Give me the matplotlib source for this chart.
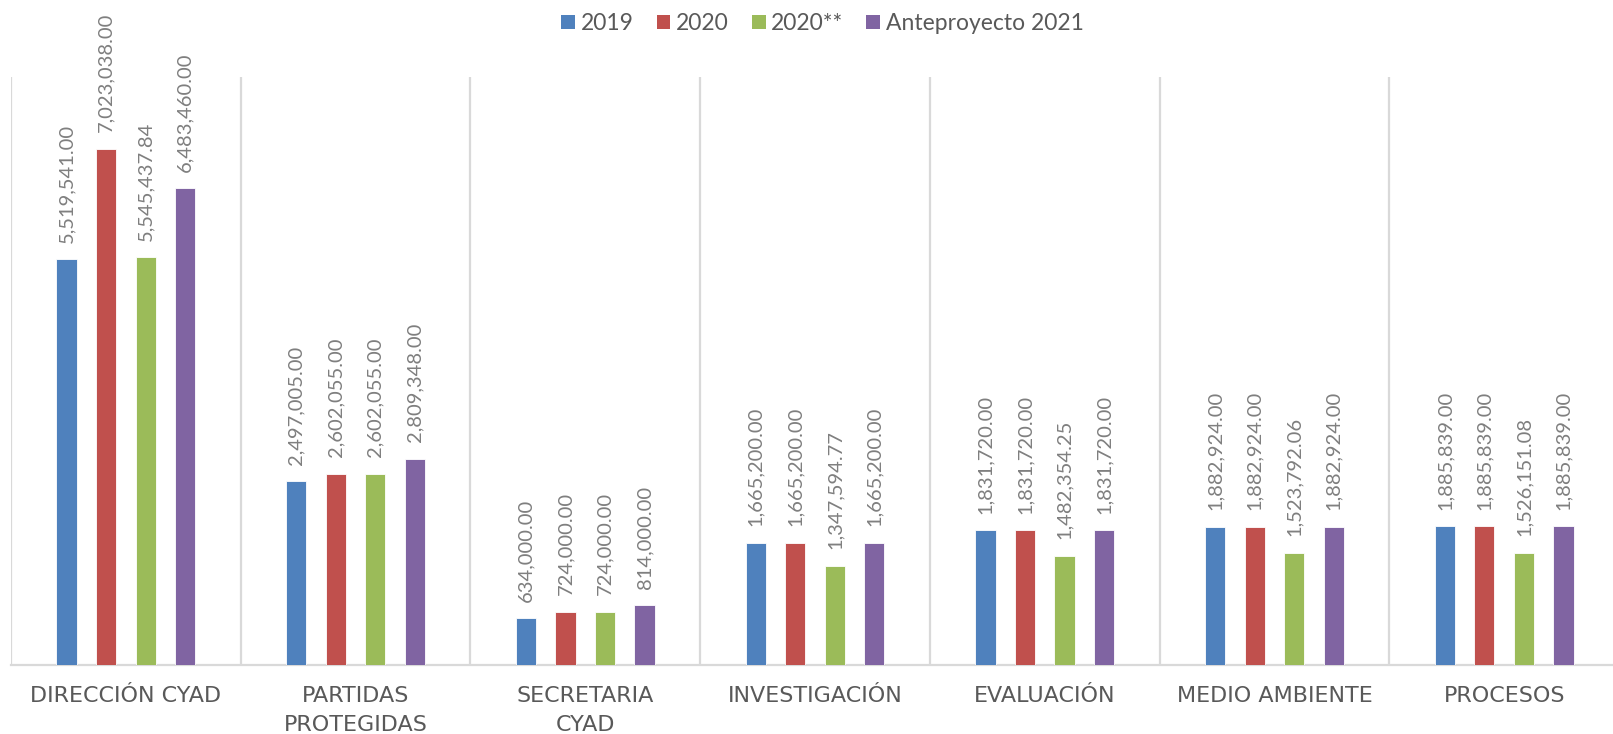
import matplotlib
matplotlib.use("Agg")
import matplotlib.pyplot as plt
from matplotlib.patches import Patch
import numpy as np

categories = ["DIRECCIÓN CYAD", "PARTIDAS\nPROTEGIDAS", "SECRETARIA\nCYAD", "INVESTIGACIÓN",
              "EVALUACIÓN", "MEDIO AMBIENTE", "PROCESOS"]
series_names = ["2019", "2020", "2020**", "Anteproyecto 2021"]
v2019 = [5519541.00, 2497005.00, 634000.00, 1665200.00, 1831720.00, 1882924.00, 1885839.00]
v2020 = [7023038.00, 2602055.00, 724000.00, 1665200.00, 1831720.00, 1882924.00, 1885839.00]
v2020b = [5545437.84, 2602055.00, 724000.00, 1347594.77, 1482354.25, 1523792.06, 1526151.08]
v2021 = [6483460.00, 2809348.00, 814000.00, 1665200.00, 1831720.00, 1882924.00, 1885839.00]
series = [v2019, v2020, v2020b, v2021]
colors = ["#4F81BD", "#C0504D", "#9BBB59", "#8064A2"]

W, H = 1613, 734
fig = plt.figure(figsize=(W / 100, H / 100), dpi=100)
ax = fig.add_axes([11 / W, 69 / H, 1608 / W, 588 / H])

x = np.arange(len(categories))
spacing = 0.172
width = 0.088
label_color = "#595959"
value_color = "#7F7F7F"
for i, (vals, c) in enumerate(zip(series, colors)):
    pos = x + (i - 1.5) * spacing
    ax.bar(pos, vals, width=width, color=c, edgecolor="white", linewidth=0.6, zorder=3)
    for px_, v in zip(pos, vals):
        ax.annotate(f"{v:,.2f}", (px_, v), xytext=(0, 12), textcoords="offset points",
                    rotation=90, ha="center", va="bottom", fontsize=14.5,
                    color=value_color, family="Lato")

ax.set_xlim(-0.5, len(categories) - 0.5)
ax.set_ylim(0, 8000000)
for b in np.arange(-0.5, len(categories), 1.0):
    ax.axvline(b, color="#D9D9D9", linewidth=1.6, zorder=1)

for s in ["top", "right", "left"]:
    ax.spines[s].set_visible(False)
ax.spines["bottom"].set_color("#D9D9D9")
ax.spines["bottom"].set_linewidth(1.6)
ax.set_yticks([])
ax.set_xticks(x)
ax.set_xticklabels(categories, fontsize=16, color=label_color, family="DejaVu Sans",
                   linespacing=1.6)
ax.tick_params(axis="x", length=0, pad=15)

handles = [Patch(facecolor=c, edgecolor="none") for c in colors]
fig.legend(handles, series_names, loc="upper center", bbox_to_anchor=(0.51, 1.01), ncol=4,
           frameon=False, handlelength=0.6, handleheight=0.6,
           handletextpad=0.25, columnspacing=1.0, labelcolor=label_color,
           prop={"family": "Lato", "size": 16.5})

fig.savefig("out.png", dpi=100)
